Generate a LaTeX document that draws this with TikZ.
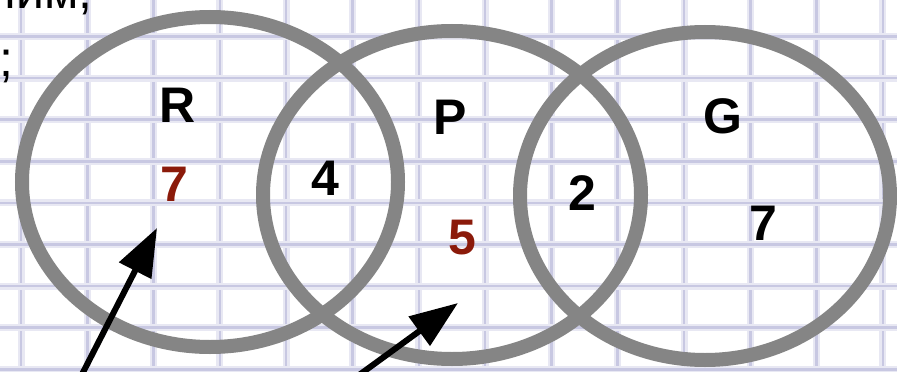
\documentclass[tikz,border=0pt]{standalone}
\usepackage{fontspec}
\setmainfont{Liberation Sans}
\usepackage{xcolor}
\usepackage{tikz}
\usetikzlibrary{arrows.meta}
\definecolor{ringgray}{RGB}{133,133,133}
\definecolor{numred}{RGB}{139,26,10}
\definecolor{gridline}{RGB}{200,200,226}
\definecolor{gridhalo}{RGB}{232,232,243}

\begin{document}
\begin{tikzpicture}[x=1pt,y=-1pt,
  ring/.style={ringgray,line width=14pt},
  lbl/.style={inner sep=0pt,font=\fontsize{50}{60}\selectfont\bfseries},
  pointer/.style={line width=6pt,-{Triangle[length=48pt,width=35pt]}}]
\useasboundingbox (0,0) rectangle (897,372);
\clip (0,0) rectangle (897,372);
\fill[white] (0,0) rectangle (897,372);
% squared paper
\foreach \i in {0,...,13}{
  \draw[gridhalo,line width=7pt](21+66.3*\i,0)--(21+66.3*\i,372);
  \draw[gridline,line width=2.5pt](21+66.3*\i,0)--(21+66.3*\i,372);}
\foreach \j in {0,...,8}{
  \draw[gridhalo,line width=7pt](0,36.5+41.6*\j)--(897,36.5+41.6*\j);
  \draw[gridline,line width=2.5pt](0,36.5+41.6*\j)--(897,36.5+41.6*\j);}
% cut-off text of the slide
\node[anchor=base east,inner sep=0pt,font=\fontsize{50}{60}\selectfont](txtA)at(93,9){ним,};
\node[anchor=base west,inner sep=0pt,font=\fontsize{50}{60}\selectfont](txtB)at(-1,76){;};
% the three sets
\draw[ring](210,182)ellipse[x radius=188pt,y radius=165pt];
\draw[ring](452,195)ellipse[x radius=189pt,y radius=164pt];
\draw[ring](705,196)ellipse[x radius=185pt,y radius=164pt];
\node[lbl](lblR)at(178,105){R};
\node[lbl](lblP)at(450,117){P};
\node[lbl](lblG)at(723,116){G};
\node[lbl,numred](nR)at(174,184){7};
\node[lbl](nRP)at(325,178){4};
\node[lbl,numred](nP)at(462,238){5};
\node[lbl](nPG)at(582,193){2};
\node[lbl](nG)at(763,223){7};
% arrows
\coordinate(tailR)at(75,388);
\coordinate(tipR)at(157,228);
\coordinate(tailP)at(344,386);
\coordinate(tipP)at(458,303);
\draw[pointer](tailR)--(tipR);
\draw[pointer](tailP)--(tipP);
\end{tikzpicture}
\end{document}
